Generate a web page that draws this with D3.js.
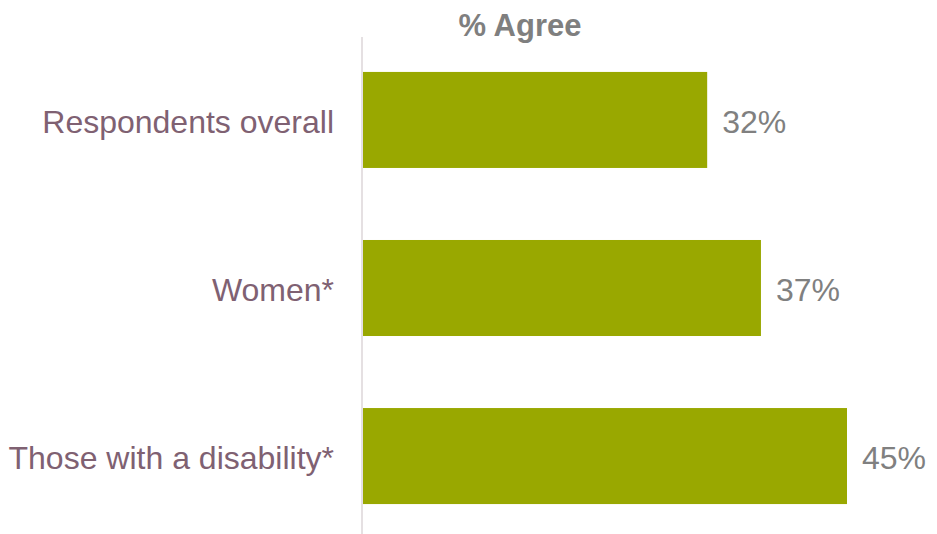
<!DOCTYPE html>
<html>
<head>
<meta charset="utf-8">
<script src="https://cdn.jsdelivr.net/npm/d3@7"></script>
<style>
  body { margin: 0; background: #fff; }
  text { font-family: "Liberation Sans", Arial, sans-serif; }
</style>
</head>
<body>
<div class="chart"></div>
<script>
const categories = ["Respondents overall", "Women*", "Those with a disability*"];
const values = [32, 37, 45];
const title = "% Agree";

const width = 937, height = 534;

const svg = d3.select(".chart").append("svg")
    .attr("width", width)
    .attr("height", height);

// 10.75px per percentage point, bars start at the axis line
const x = d3.scaleLinear()
    .domain([0, 45])
    .range([363, 847]);

const y = d3.scaleBand()
    .domain(categories)
    .range([39, 537])
    .paddingInner(0.4286)
    .paddingOuter(0.196);

svg.append("text")
    .attr("x", 520)
    .attr("y", 36)
    .attr("text-anchor", "middle")
    .attr("font-size", 31)
    .attr("font-weight", "bold")
    .attr("fill", "#7f7f7f")
    .text(title);

svg.selectAll("rect.bar")
    .data(values)
    .join("rect")
    .attr("class", "bar")
    .attr("x", x(0))
    .attr("y", (d, i) => y(categories[i]))
    .attr("width", d => x(d) - x(0))
    .attr("height", y.bandwidth())
    .attr("fill", "#99a800");

// axis line
svg.append("line")
    .attr("x1", 362).attr("x2", 362)
    .attr("y1", 37).attr("y2", height)
    .attr("stroke", "#dcd6d9")
    .attr("stroke-width", 1.5);

svg.selectAll("text.cat")
    .data(categories)
    .join("text")
    .attr("class", "cat")
    .attr("x", 334)
    .attr("y", d => y(d) + y.bandwidth() / 2)
    .attr("dy", "0.4em")
    .attr("text-anchor", "end")
    .attr("font-size", 32)
    .attr("fill", "#7f6172")
    .text(d => d);

svg.selectAll("text.val")
    .data(values)
    .join("text")
    .attr("class", "val")
    .attr("x", d => x(d) + 15)
    .attr("y", (d, i) => y(categories[i]) + y.bandwidth() / 2)
    .attr("dy", "0.4em")
    .attr("font-size", 32)
    .attr("fill", "#808080")
    .text(d => d + "%");
</script>
</body>
</html>
